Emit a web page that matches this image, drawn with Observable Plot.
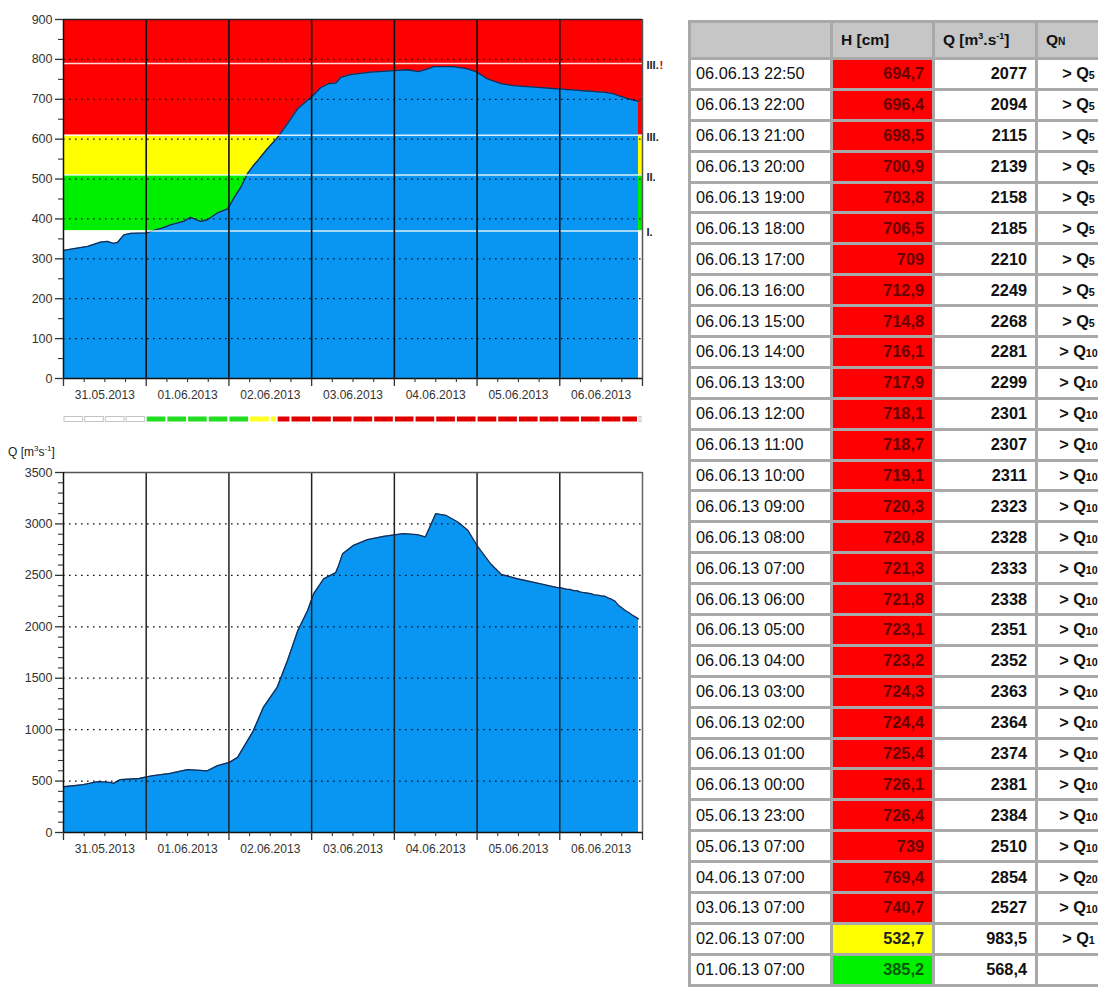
<!DOCTYPE html>
<html><head><meta charset="utf-8">
<script src="https://cdn.jsdelivr.net/npm/d3@7"></script>
<script src="https://cdn.jsdelivr.net/npm/@observablehq/plot@0.6"></script>
<style>
body{margin:0;background:#fff;font-family:"Liberation Sans",Arial,sans-serif;}
#root{position:relative;width:1098px;height:989px;overflow:hidden;background:#fff}
.abs{position:absolute}
#tbl{border-collapse:collapse;table-layout:fixed;width:431px;font-family:"Liberation Sans",Arial,sans-serif;font-size:16.3px;color:#111}
#tbl td,#tbl th{border:3px solid #a9a9a9;padding:0 8px;white-space:nowrap;overflow:hidden}
#tbl th{background:#c6c6c6;text-align:left;font-weight:bold;font-size:15.5px;height:34px}
#tbl td{height:27.9px}
#tbl td.d{text-align:left;padding-left:5px}
#tbl td.h{text-align:right;font-weight:bold}
#tbl td.q{text-align:right;font-weight:bold}
#tbl td.n{text-align:center;font-weight:bold}
.sm{font-size:66%}
#qlabel{font-size:12px;color:#222}
</style>
</head><body>
<div id="root">
  <div id="top" class="abs" style="left:0;top:0"></div>
  <div id="strip" class="abs" style="left:0;top:415px"></div>
  <div id="qlabel" class="abs" style="left:8px;top:444px">Q [m<sup style="font-size:8px">3</sup>s<sup style="font-size:8px">-1</sup>]</div>
  <div id="bottom" class="abs" style="left:0;top:440px"></div>
  <table id="tbl" class="abs" style="left:688px;top:20px"></table>
</div>
<script>
// ---------- DATA ----------
const xStart = "2013-05-31 00:00";
const xEnd = "2013-06-07 00:00";
const dayLabels = ["31.05.2013","01.06.2013","02.06.2013","03.06.2013","04.06.2013","05.06.2013","06.06.2013"];
const dayStarts = ["2013-05-31 00:00","2013-06-01 00:00","2013-06-02 00:00","2013-06-03 00:00","2013-06-04 00:00","2013-06-05 00:00","2013-06-06 00:00","2013-06-07 00:00"];

// flood levels (H, cm)
const levelValue = [370, 510, 610, 790];
const levelLabel = ["I.", "II.", "III.", "III."];
const bandLo = [370, 510, 610];
const bandHi = [510, 610, 900];
const bandColor = ["#00ee00", "#ffff00", "#ff0000"];

// status strip under the H chart
const stripStart = ["2013-05-31 00:00","2013-06-01 00:00","2013-06-02 06:00","2013-06-02 14:00","2013-06-06 22:50"];
const stripEnd   = ["2013-06-01 00:00","2013-06-02 06:00","2013-06-02 14:00","2013-06-06 22:50","2013-06-07 00:00"];
const stripColor = ["#ffffff","#22dd22","#ffff22","#e00000","#ffffff"];

// water level H [cm]
const hTime = [
"2013-05-31 00:00","2013-05-31 04:00","2013-05-31 07:00","2013-05-31 10:45","2013-05-31 12:45","2013-05-31 14:30","2013-05-31 15:40","2013-05-31 17:30","2013-05-31 19:30",
"2013-06-01 00:00","2013-06-01 02:00","2013-06-01 05:00","2013-06-01 07:00","2013-06-01 10:50","2013-06-01 12:50","2013-06-01 15:45","2013-06-01 17:45","2013-06-01 20:40","2013-06-01 23:35",
"2013-06-02 00:30","2013-06-02 01:20","2013-06-02 03:25","2013-06-02 05:25","2013-06-02 07:00","2013-06-02 08:20","2013-06-02 11:10","2013-06-02 14:05","2013-06-02 17:00","2013-06-02 19:55",
"2013-06-03 00:20","2013-06-03 02:35","2013-06-03 04:55","2013-06-03 07:00","2013-06-03 08:30","2013-06-03 11:15","2013-06-03 17:05",
"2013-06-04 00:00","2013-06-04 03:50","2013-06-04 07:00","2013-06-04 09:40","2013-06-04 11:25","2013-06-04 17:10","2013-06-04 21:15",
"2013-06-05 00:00","2013-06-05 03:00","2013-06-05 07:00","2013-06-05 10:35","2013-06-05 17:35","2013-06-05 23:00",
"2013-06-06 00:00","2013-06-06 01:00","2013-06-06 02:00","2013-06-06 03:00","2013-06-06 04:00","2013-06-06 05:00","2013-06-06 06:00","2013-06-06 07:00","2013-06-06 08:00","2013-06-06 09:00","2013-06-06 10:00","2013-06-06 11:00",
"2013-06-06 12:00","2013-06-06 13:00","2013-06-06 14:00","2013-06-06 15:00","2013-06-06 16:00","2013-06-06 17:00","2013-06-06 18:00","2013-06-06 19:00","2013-06-06 20:00","2013-06-06 21:00","2013-06-06 22:00","2013-06-06 22:50"];
const hValue = [
321,327,331,342,344,339,341,360,364,
365,371,378,385.2,394,404,394,398,415,425,
438,451,479,514,532.7,546,576,604,639,676,
709,729,739,740.7,755,762,768,
772,774,769.4,776,782,782,776,
768,751,739,734,730,726.4,
726.1,725.4,724.4,724.3,723.2,723.1,721.8,721.3,720.8,720.3,719.1,718.7,
718.1,717.9,716.1,714.8,712.9,709,706.5,703.8,700.9,698.5,696.4,694.7];

// discharge Q [m3/s]
const qTime = [
"2013-05-31 00:00","2013-05-31 05:45","2013-05-31 10:00","2013-05-31 13:30","2013-05-31 14:30","2013-05-31 16:30","2013-05-31 22:00",
"2013-06-01 00:00","2013-06-01 02:00","2013-06-01 07:00","2013-06-01 12:00","2013-06-01 17:45","2013-06-01 20:40",
"2013-06-02 00:10","2013-06-02 02:30","2013-06-02 07:00","2013-06-02 10:00","2013-06-02 14:00","2013-06-02 17:00","2013-06-02 20:00","2013-06-02 22:50",
"2013-06-03 00:35","2013-06-03 03:30","2013-06-03 07:00","2013-06-03 07:50","2013-06-03 09:00","2013-06-03 12:10","2013-06-03 16:10","2013-06-03 20:55",
"2013-06-04 02:40","2013-06-04 06:40","2013-06-04 09:00","2013-06-04 12:00","2013-06-04 14:55","2013-06-04 18:25","2013-06-04 21:20",
"2013-06-05 00:00","2013-06-05 03:55","2013-06-05 07:00","2013-06-05 11:40","2013-06-05 17:30","2013-06-05 23:00",
"2013-06-06 00:00","2013-06-06 01:00","2013-06-06 02:00","2013-06-06 03:00","2013-06-06 04:00","2013-06-06 05:00","2013-06-06 06:00","2013-06-06 07:00","2013-06-06 08:00","2013-06-06 09:00","2013-06-06 10:00","2013-06-06 11:00",
"2013-06-06 12:00","2013-06-06 13:00","2013-06-06 14:00","2013-06-06 15:00","2013-06-06 16:00","2013-06-06 17:00","2013-06-06 18:00","2013-06-06 19:00","2013-06-06 20:00","2013-06-06 21:00","2013-06-06 22:00","2013-06-06 22:50"];
const qValue = [
445,465,495,487,478,515,525,
540,552,575,612,600,650,
682,730,983.5,1217,1412,1672,1964,2159,
2321,2467,2527,2597,2711,2792,2847,2880,
2906,2896,2873,3100,3084,3019,2938,
2790,2613,2510,2467,2425,2384,
2381,2374,2364,2363,2352,2351,2338,2333,2328,2323,2311,2307,
2301,2299,2281,2268,2249,2210,2185,2158,2139,2115,2094,2077];

// table
const tblTime = ["06.06.13 22:50","06.06.13 22:00","06.06.13 21:00","06.06.13 20:00","06.06.13 19:00","06.06.13 18:00","06.06.13 17:00","06.06.13 16:00","06.06.13 15:00","06.06.13 14:00","06.06.13 13:00","06.06.13 12:00","06.06.13 11:00","06.06.13 10:00","06.06.13 09:00","06.06.13 08:00","06.06.13 07:00","06.06.13 06:00","06.06.13 05:00","06.06.13 04:00","06.06.13 03:00","06.06.13 02:00","06.06.13 01:00","06.06.13 00:00","05.06.13 23:00","05.06.13 07:00","04.06.13 07:00","03.06.13 07:00","02.06.13 07:00","01.06.13 07:00"];
const tblH = [694.7,696.4,698.5,700.9,703.8,706.5,709,712.9,714.8,716.1,717.9,718.1,718.7,719.1,720.3,720.8,721.3,721.8,723.1,723.2,724.3,724.4,725.4,726.1,726.4,739,769.4,740.7,532.7,385.2];
const tblQ = [2077,2094,2115,2139,2158,2185,2210,2249,2268,2281,2299,2301,2307,2311,2323,2328,2333,2338,2351,2352,2363,2364,2374,2381,2384,2510,2854,2527,983.5,568.4];
const tblQN = ["5","5","5","5","5","5","5","5","5","10","10","10","10","10","10","10","10","10","10","10","10","10","10","10","10","10","20","10","1",""];

// ---------- BUILD ----------
const parse = d3.utcParse("%Y-%m-%d %H:%M");
const x0 = parse(xStart), x1 = parse(xEnd);
const H = hTime.map((t,i)=>({t:parse(t), v:hValue[i]}));
const Q = qTime.map((t,i)=>({t:parse(t), v:qValue[i]}));
const days = dayStarts.map(parse);
const innerDays = days.slice(1, -1);
const noons = days.slice(0, -1).map(d => d3.utcHour.offset(d, 12));
const sixH = d3.utcHour.every(6).range(x0, x1).filter(d => d.getUTCHours() !== 0);
const labelFor = new Map(noons.map((d,i)=>[+d, dayLabels[i]]));
const font = "'Liberation Sans', Arial, sans-serif";
const plain = d => String(d);

function xAxes() {
  return [
    Plot.axisX(noons, {tickSize:0, tickPadding:12, fontSize:12, label:null, tickFormat: d => labelFor.get(+d)}),
    Plot.axisX(days, {tickSize:8, text:null, label:null, strokeWidth:1.3}),
    Plot.axisX(sixH, {tickSize:4, text:null, label:null, strokeWidth:1.1})
  ];
}

const levels = levelValue.map((v,i)=>({v, label:levelLabel[i]}));
const bands = bandLo.map((lo,i)=>({lo, hi:bandHi[i], color:bandColor[i]}));

const topChart = Plot.plot({
  width:680, height:410, marginLeft:63, marginRight:38, marginTop:19, marginBottom:32,
  style:{fontFamily:font, fontSize:"12.5px", color:"#333", background:"transparent", overflow:"visible"},
  x:{type:"utc", domain:[x0,x1], axis:null, label:null},
  y:{domain:[0,900], axis:null, label:null},
  color:{type:"identity"},
  marks:[
    Plot.rect(bands, {x1:()=>x0, x2:()=>x1, y1:"lo", y2:"hi", fill:"color"}),
    Plot.areaY(H, {x:"t", y:"v", fill:"#0996f2"}),
    Plot.lineY(H, {x:"t", y:"v", stroke:"#1b2b50", strokeWidth:1.3}),
    Plot.ruleY(d3.range(100,900,100), {stroke:"#111", strokeWidth:1.3, strokeDasharray:"1.6,4.4"}),
    Plot.ruleY(levels, {y:"v", stroke:"#fff", strokeOpacity:0.85, strokeWidth:1.5}),
    Plot.ruleX(innerDays, {stroke:"#111", strokeWidth:1.6}),
    Plot.ruleY([900], {stroke:"#222", strokeWidth:1.5}),
    Plot.ruleX([x1], {stroke:"#555", strokeWidth:1.5}),
    Plot.ruleX([x0], {stroke:"#111", strokeWidth:1.5}),
    Plot.ruleY([0], {stroke:"#111", strokeWidth:1.5}),
    Plot.axisY(d3.range(0,901,100), {tickSize:8, tickPadding:3, fontSize:12.5, strokeWidth:1.3, label:null, tickFormat:plain}),
    Plot.axisY(d3.range(50,900,100), {tickSize:5, text:null, label:null, strokeWidth:1.1}),
    ...xAxes(),
    Plot.text(levels, {x:()=>x1, y:"v", text:"label", dx:4, dy:2, textAnchor:"start", fontWeight:"bold", fontSize:11, fill:"#222"}),
    Plot.text([levelValue[3]], {x:()=>x1, y:d=>d, text:()=>"!", dx:17, dy:2, textAnchor:"start", fontWeight:"bold", fontSize:11.5, fill:"#e00000"})
  ]
});
document.getElementById("top").appendChild(topChart);

// strip: split each zone at 6h boundaries
const pieces = [];
stripStart.forEach((s,i)=>{
  const a = parse(s), b = parse(stripEnd[i]);
  const cuts = [a, ...d3.utcHour.every(6).range(d3.utcHour.offset(a,0.0001), b), b];
  for (let k=0;k<cuts.length-1;k++) if (+cuts[k+1] > +cuts[k]) pieces.push({a:cuts[k], b:cuts[k+1], color:stripColor[i]});
});
const strip = Plot.plot({
  width:680, height:8, marginLeft:63, marginRight:38, marginTop:1.5, marginBottom:1.5,
  style:{background:"transparent", overflow:"visible"},
  x:{type:"utc", domain:[x0,x1], axis:null},
  color:{type:"identity"},
  marks:[
    Plot.rect(pieces, {x1:"a", x2:"b", fill:"color", insetLeft:1, insetRight:1,
      stroke:d => d.color === "#ffffff" ? "#c4c4c4" : "none", strokeWidth:1})
  ]
});
document.getElementById("strip").appendChild(strip);

const bottomChart = Plot.plot({
  width:680, height:422, marginLeft:63, marginRight:38, marginTop:32, marginBottom:30,
  style:{fontFamily:font, fontSize:"12.5px", color:"#333", background:"transparent", overflow:"visible"},
  x:{type:"utc", domain:[x0,x1], axis:null, label:null},
  y:{domain:[0,3500], axis:null, label:null},
  marks:[
    Plot.areaY(Q, {x:"t", y:"v", fill:"#0996f2"}),
    Plot.lineY(Q, {x:"t", y:"v", stroke:"#1b2b50", strokeWidth:1.3}),
    Plot.ruleY(d3.range(500,3500,500), {stroke:"#111", strokeWidth:1.3, strokeDasharray:"1.6,4.4"}),
    Plot.ruleX(innerDays, {stroke:"#222", strokeWidth:1.5}),
    Plot.ruleY([3500], {stroke:"#555", strokeWidth:1.5}),
    Plot.ruleX([x1], {stroke:"#666", strokeWidth:1.5}),
    Plot.ruleX([x0], {stroke:"#111", strokeWidth:1.5}),
    Plot.ruleY([0], {stroke:"#111", strokeWidth:1.5}),
    Plot.axisY(d3.range(0,3501,500), {tickSize:8, tickPadding:3, fontSize:12.5, strokeWidth:1.3, label:null, tickFormat:plain}),
    Plot.axisY(d3.range(0,3501,100).filter(v => v % 500 !== 0), {tickSize:5, text:null, label:null, strokeWidth:1.1}),
    ...xAxes()
  ]
});
document.getElementById("bottom").appendChild(bottomChart);

// table
const fmt = v => String(v).replace(".", ",");
function hStyle(v){
  if (v >= bandLo[2]) return {bg:"#ff0000", fg:"#6a0000"};
  if (v >= bandLo[1]) return {bg:"#ffff00", fg:"#222"};
  if (v >= bandLo[0]) return {bg:"#00f000", fg:"#005a00"};
  return {bg:"#fff", fg:"#111"};
}
let html = '<colgroup><col style="width:142px"><col style="width:102px"><col style="width:103px"><col style="width:84px"></colgroup>';
html += '<tr><th></th><th>H [cm]</th><th>Q [m<sup style="font-size:9px">3</sup>.s<sup style="font-size:9px">-1</sup>]</th><th>Q<span class="sm">N</span></th></tr>';
tblTime.forEach((t,i)=>{
  const s = hStyle(tblH[i]);
  html += `<tr><td class="d">${t}</td><td class="h" style="background:${s.bg};color:${s.fg}">${fmt(tblH[i])}</td><td class="q">${fmt(tblQ[i])}</td><td class="n">${tblQN[i] ? '&gt; Q<span class="sm">'+tblQN[i]+'</span>' : ''}</td></tr>`;
});
document.getElementById("tbl").innerHTML = html;
</script>
</body></html>
